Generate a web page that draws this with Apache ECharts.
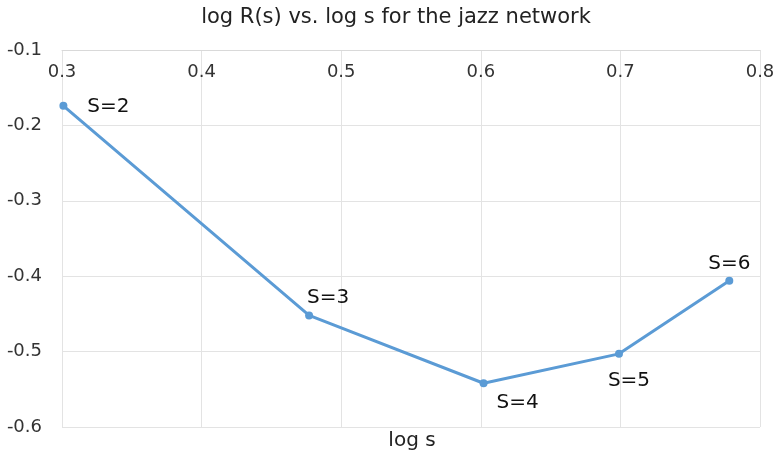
<!DOCTYPE html>
<html>
<head>
<meta charset="utf-8">
<script src="https://cdn.jsdelivr.net/npm/echarts@6/dist/echarts.min.js"></script>
<style>html,body{margin:0;padding:0;background:#fff}#c{width:775px;height:460px}</style>
</head>
<body>
<div id="c"></div>
<script>
const logS = [0.301, 0.477, 0.602, 0.699, 0.778];
const logR = [-0.174, -0.452, -0.542, -0.503, -0.406];
const pointLabels = ['S=2', 'S=3', 'S=4', 'S=5', 'S=6'];
const titleText = 'log R(s) vs. log s for the jazz network';
const xAxisTitle = 'log s';

// label placement (style only)
const labelOffsets = [[45, 1], [19, -18], [34, 20], [10, 27], [0, -17]];

const FONT = 'DejaVu Sans';
const chart = echarts.init(document.getElementById('c'));
chart.setOption({
  animation: false,
  graphic: [
    { type: 'text', x: 396, y: 18, style: { text: titleText, font: '21px "DejaVu Sans"', fill: '#222', textAlign: 'center', textVerticalAlign: 'middle' } },
    { type: 'text', x: 412, y: 441, style: { text: xAxisTitle, font: '20px "DejaVu Sans"', fill: '#222', textAlign: 'center', textVerticalAlign: 'middle' } }
  ],
  grid: { left: 62, right: 15, top: 50, bottom: 33, containLabel: false, outerBoundsMode: 'none' },
  xAxis: {
    type: 'value', position: 'top', min: 0.3, max: 0.8, interval: 0.1,
    axisLine: { show: true, lineStyle: { color: '#d9d9d9' } },
    axisTick: { show: false },
    axisLabel: { inside: true, margin: 13, fontFamily: FONT, fontSize: 18, color: '#333', formatter: v => v.toFixed(1) },
    splitLine: { show: true, lineStyle: { color: '#e3e3e3', width: 1 } }
  },
  yAxis: {
    type: 'value', min: -0.6, max: -0.1, interval: 0.1,
    axisLine: { show: false }, axisTick: { show: false },
    axisLabel: { fontFamily: FONT, fontSize: 18, color: '#333', margin: 20, formatter: v => v.toFixed(1) },
    splitLine: { show: true, lineStyle: { color: '#e3e3e3', width: 1 } }
  },
  series: [{
    type: 'line',
    data: logS.map((x, i) => ({
      value: [x, logR[i]],
      label: { show: true, formatter: pointLabels[i], position: 'inside', offset: labelOffsets[i] }
    })),
    symbol: 'circle', symbolSize: 8,
    lineStyle: { color: '#5b9bd5', width: 3 },
    itemStyle: { color: '#5b9bd5' },
    label: { fontFamily: FONT, fontSize: 20, color: '#111' }
  }]
});
</script>
</body>
</html>
